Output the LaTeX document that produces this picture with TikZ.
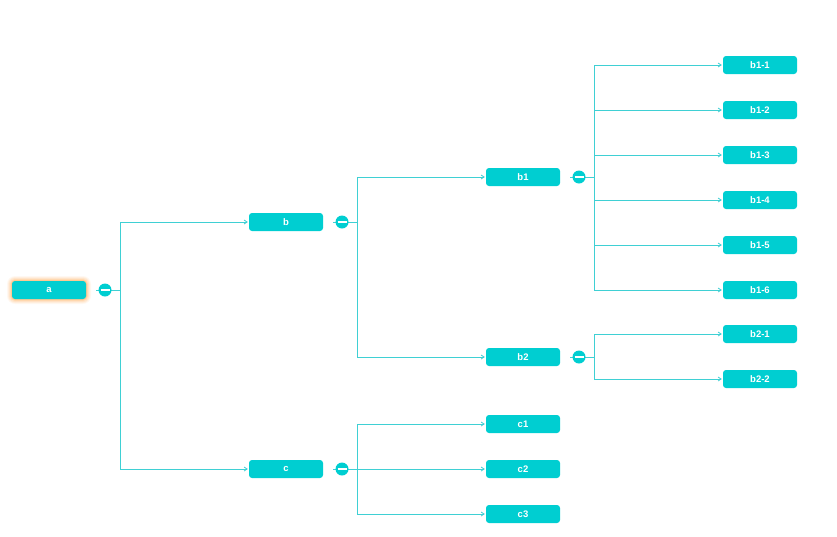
\documentclass[tikz,border=0pt]{standalone}
\usepackage{fontspec}
\setmainfont{Liberation Sans}
\usetikzlibrary{arrows.meta}
\definecolor{tealn}{HTML}{00CED1}
\definecolor{teall}{HTML}{3FD0D4}
\definecolor{glow}{HTML}{FFA040}
\begin{document}
\begin{tikzpicture}[x=1pt,y=-1pt,
  nd/.style={fill=tealn, rounded corners=3pt, minimum width=74pt, minimum height=18pt, inner sep=0pt, text=white, font=\bfseries\fontsize{9.5}{11}\selectfont},
  ln/.style={draw=teall, line width=0.8pt},
  arr/.style={ln, -{Straight Barb[length=3pt,width=4pt]}},
  tog/.style={circle, fill=tealn, minimum size=13pt, inner sep=0pt},
  bar/.style={draw=white, line width=1.3pt},
]
\useasboundingbox (0,0) rectangle (837,536);
% glow for a
\foreach \s/\o in {5/0.07,4/0.1,3/0.13,2/0.18,1/0.28}{
  \fill[glow, opacity=\o, rounded corners=3pt+\s pt] (12-\s,281-\s) rectangle (86+\s,299+\s);
}
\node[nd] (a) at (49,290) {a};
\node[nd] (b) at (286,222) {b};
\node[nd] (c) at (286,469) {c};
\node[nd] (b1) at (523,177) {b1};
\node[nd] (b2) at (523,357) {b2};
\node[nd] (c1) at (523,424) {c1};
\node[nd] (c2) at (523,469) {c2};
\node[nd] (c3) at (523,514) {c3};
\node[nd] (b11) at (760,65) {b1-1};
\node[nd] (b12) at (760,110) {b1-2};
\node[nd] (b13) at (760,155) {b1-3};
\node[nd] (b14) at (760,200) {b1-4};
\node[nd] (b15) at (760,245) {b1-5};
\node[nd] (b16) at (760,290) {b1-6};
\node[nd] (b21) at (760,334) {b2-1};
\node[nd] (b22) at (760,379) {b2-2};
% toggles and junctions
\foreach \n/\x/\y in {a/105/290, b/342/222, b1/579/177, b2/579/357, c/342/469}{
  \coordinate (s\n) at (\x-9,\y);
  \coordinate (j\n) at (\x+15,\y);
}
\draw[ln] (sa) -- (ja);
\draw[ln] (sb) -- (jb);
\draw[ln] (sb1) -- (jb1);
\draw[ln] (sb2) -- (jb2);
\draw[ln] (sc) -- (jc);
% connectors
\foreach \p/\k in {a/b, a/c, b/b1, b/b2, c/c1, c/c2, c/c3, b1/b11, b1/b12, b1/b13, b1/b14, b1/b15, b1/b16, b2/b21, b2/b22}{
  \draw[arr] (j\p) |- ([xshift=-1pt]\k.west);
}
\foreach \n/\x/\y in {a/105/290, b/342/222, b1/579/177, b2/579/357, c/342/469}{
  \node[tog] (t\n) at (\x,\y) {};
  \draw[bar] ([xshift=-4.5pt]t\n.center) -- ([xshift=4.5pt]t\n.center);
}
\end{tikzpicture}
\end{document}
